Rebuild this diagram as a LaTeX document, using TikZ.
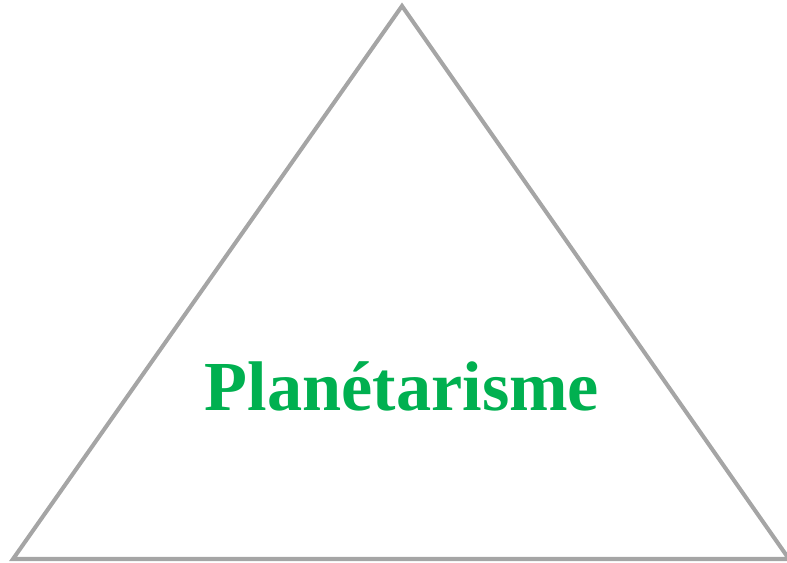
\documentclass[tikz,border=0pt]{standalone}
\usepackage{fontspec}
\setmainfont{Liberation Serif}
\usepackage{tikz}
\usetikzlibrary{positioning}

\definecolor{trigray}{HTML}{A5A5A5}
\definecolor{titlegreen}{HTML}{00B050}

\begin{document}
\begin{tikzpicture}[
    x=0.02cm, y=-0.02cm,
    edge/.style  = {draw=trigray, line width=2.3pt, line join=miter},
    title/.style = {text=titlegreen, font=\fontsize{40}{48}\selectfont\bfseries,
                    inner sep=0pt, anchor=base}
  ]
    \useasboundingbox (0,0) rectangle (787,563);

    \coordinate (top)   at (402,6);
    \coordinate (left)  at (13,559);
    \coordinate (right) at (789,559);

    \draw[edge] (top) -- (right) -- (left) -- cycle;

    \node[title] (name) at (402,411) {Planétarisme};
  \end{tikzpicture}
\end{document}
